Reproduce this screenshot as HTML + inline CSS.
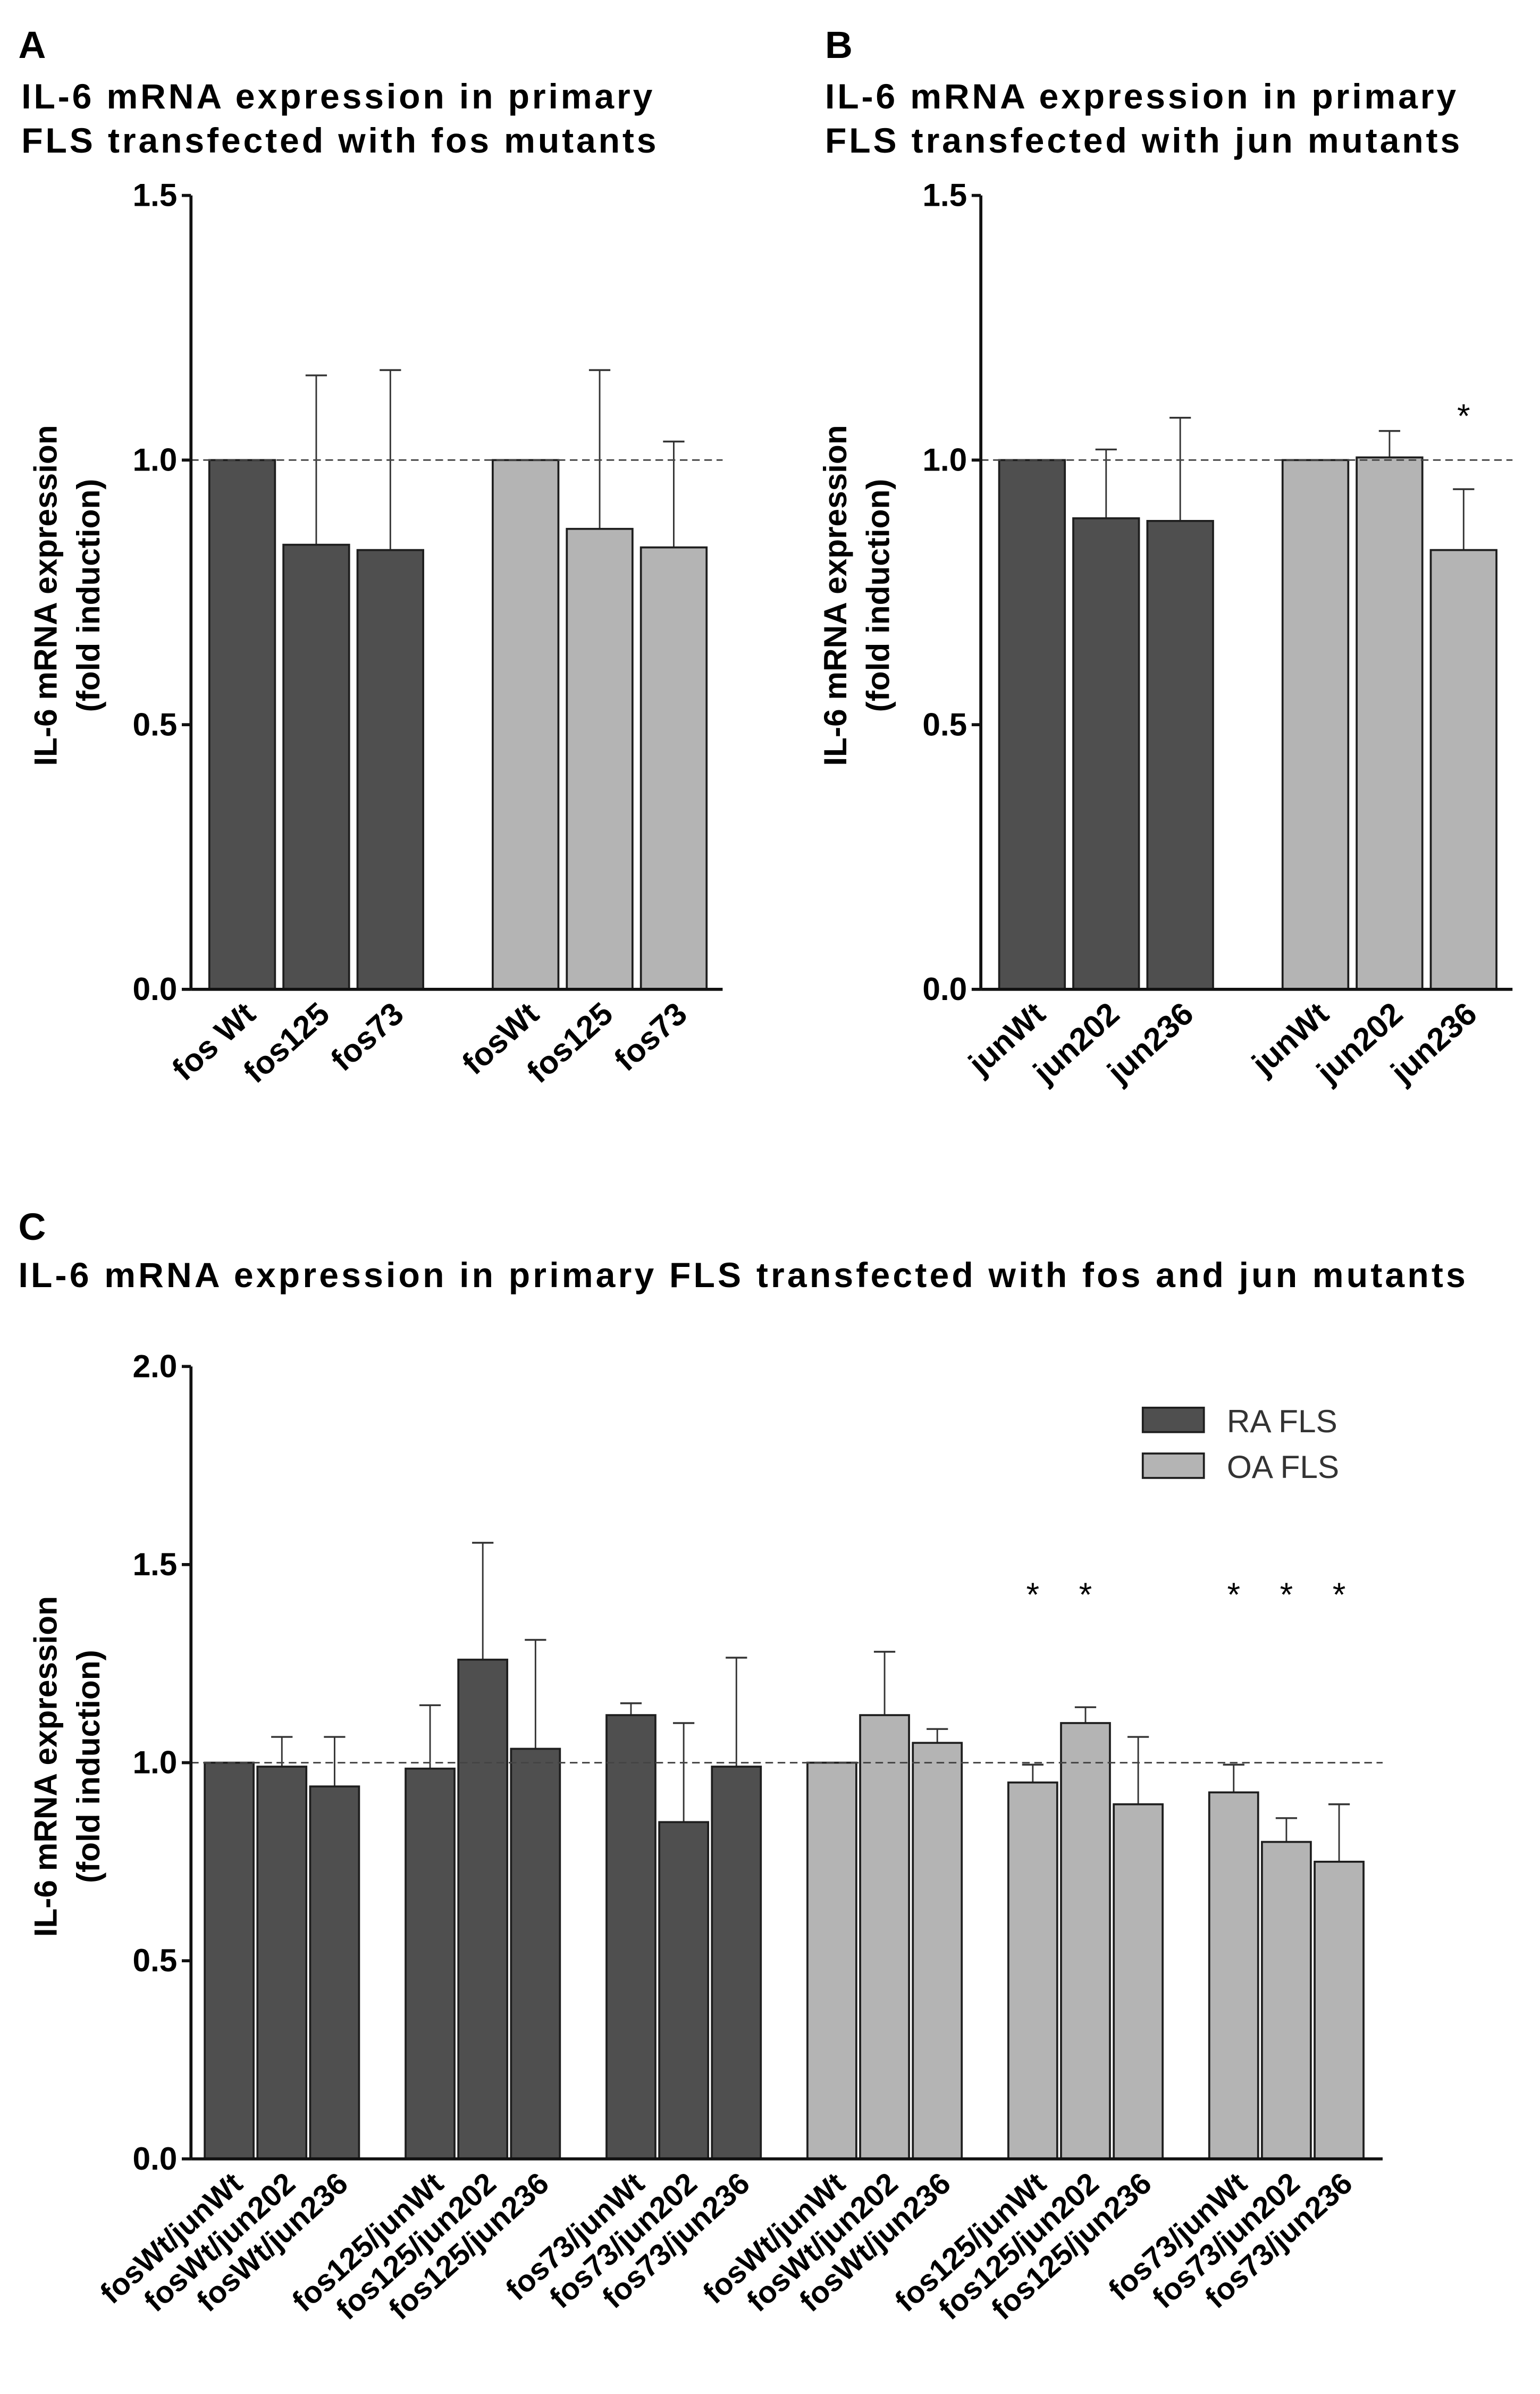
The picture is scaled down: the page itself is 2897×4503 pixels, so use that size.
<!DOCTYPE html>
<html><head><meta charset="utf-8"><style>
html,body{margin:0;padding:0;background:#fff;}
svg{display:block;font-family:"Liberation Sans",Arial,sans-serif;}
</style></head><body>
<svg id="fig" width="2897" height="4503" viewBox="0 0 1008 1568" preserveAspectRatio="none">
<rect x="0" y="0" width="1008" height="1568" fill="#fff"/>
<text x="12" y="38" font-size="25" font-weight="bold">A</text>
<text x="14" y="71" font-size="23" font-weight="bold" letter-spacing="1.7">IL-6 mRNA expression in primary</text>
<text x="14" y="100" font-size="23" font-weight="bold" letter-spacing="1.7">FLS transfected with fos mutants</text>
<text x="540" y="38" font-size="25" font-weight="bold">B</text>
<text x="540" y="71" font-size="23" font-weight="bold" letter-spacing="1.7">IL-6 mRNA expression in primary</text>
<text x="540" y="100" font-size="23" font-weight="bold" letter-spacing="1.7">FLS transfected with jun mutants</text>
<text x="12" y="812" font-size="25" font-weight="bold">C</text>
<text x="12" y="843" font-size="23" font-weight="bold" letter-spacing="1.8">IL-6 mRNA expression in primary FLS transfected with fos and jun mutants</text>
<g id="pa"></g>
<g id="pb"></g>
<g id="pc"></g>
</svg>
<script>
const aLabels=["fos Wt","fos125","fos73","fosWt","fos125","fos73"];
const aValues=[1.0,0.84,0.83,1.0,0.87,0.835];
const aErrors=[0,1.16,1.17,0,1.17,1.035];
const aGroups=[0,0,0,1,1,1];
const aTicks=["0.0","0.5","1.0","1.5"];
const bLabels=["junWt","jun202","jun236","junWt","jun202","jun236"];
const bValues=[1.0,0.89,0.885,1.0,1.005,0.83];
const bErrors=[0,1.02,1.08,0,1.055,0.945];
const bGroups=[0,0,0,1,1,1];
const bStars=[0,0,0,0,0,1];
const cLabels=["fosWt/junWt","fosWt/jun202","fosWt/jun236","fos125/junWt","fos125/jun202","fos125/jun236","fos73/junWt","fos73/jun202","fos73/jun236","fosWt/junWt","fosWt/jun202","fosWt/jun236","fos125/junWt","fos125/jun202","fos125/jun236","fos73/junWt","fos73/jun202","fos73/jun236"];
const cValues=[1.0,0.99,0.94,0.985,1.26,1.035,1.12,0.85,0.99,1.0,1.12,1.05,0.95,1.10,0.895,0.925,0.80,0.75];
const cErrors=[0,1.065,1.065,1.145,1.555,1.31,1.15,1.10,1.265,0,1.28,1.085,0.995,1.14,1.065,0.995,0.86,0.895];
const cGroups=[0,0,0,0,0,0,0,0,0,1,1,1,1,1,1,1,1,1];
const cStars=[0,0,0,0,0,0,0,0,0,0,0,0,1,1,0,1,1,1];
const cTicks=["0.0","0.5","1.0","1.5","2.0"];
const legendNames=["RA FLS","OA FLS"];
const NS="http://www.w3.org/2000/svg";
const fills=["#4f4f4f","#b4b4b4"];
function mk(p,t,a){const e=document.createElementNS(NS,t);for(const k in a)e.setAttribute(k,a[k]);p.appendChild(e);return e;}
function panel(g,o){
  const y=v=>o.y0-(v/o.ymax)*(o.y0-o.ytop);
  const x=i=>o.x0+o.start+i*o.step+Math.floor(i/3)*o.gap;
  o.values.forEach((v,i)=>{
    const bx=x(i),cx=bx+o.bw/2;
    if(o.errors[i]>v){
      const l=mk(g,'line',{x1:cx,x2:cx,y1:y(v),y2:y(o.errors[i]),stroke:'#333','stroke-width':1});
      
      
      const c=mk(g,'line',{x1:cx-7,x2:cx+7,y1:y(o.errors[i]),y2:y(o.errors[i]),stroke:'#333','stroke-width':1.2});
      
      
    }
    const r=mk(g,'rect',{x:bx,y:y(v),width:o.bw,height:o.y0-y(v),fill:fills[o.groups[i]],stroke:'#1e1e1e','stroke-width':1.3});
    
    
    if(o.stars&&o.stars[i]){const s=mk(g,'text',{x:cx,y:o.starY,'font-size':22,'text-anchor':'middle'});s.textContent='*';
      
      }
    const t=mk(g,'text',{'font-size':o.lfs,'font-weight':'bold','text-anchor':'end',transform:`translate(${cx+10},${o.y0+18}) rotate(-42)`});
    t.textContent=o.labels[i];
    
    
  });
  const d=mk(g,'line',{x1:o.x0,x2:o.x1,y1:y(1),y2:y(1),stroke:'#444','stroke-width':1,'stroke-dasharray':'5,3'});
  
  
  const ya=mk(g,'line',{x1:o.x0,x2:o.x0,y1:o.ytop,y2:o.y0,stroke:'#111','stroke-width':2});
  
  
  const xa=mk(g,'line',{x1:o.x0,x2:o.x1,y1:o.y0,y2:o.y0,stroke:'#111','stroke-width':2});
  
  
  o.ticks.forEach((tl,i)=>{
    const v=parseFloat(tl);
    mk(g,'line',{x1:o.x0-6,x2:o.x0,y1:y(v),y2:y(v),stroke:'#111','stroke-width':2});
    const t=mk(g,'text',{x:o.x0-9,y:y(v)+7,'font-size':21,'font-weight':'bold','text-anchor':'end'});
    t.textContent=tl;
    
    
  });
  const cy=o.titleY;
  const t1=mk(g,'text',{'font-size':21,'font-weight':'bold','text-anchor':'middle',transform:`translate(${o.x0-88},${cy}) rotate(-90)`});
  t1.textContent='IL-6 mRNA expression';
  
  
  const t2=mk(g,'text',{'font-size':21,'font-weight':'bold','text-anchor':'middle',transform:`translate(${o.x0-60},${cy}) rotate(-90)`});
  t2.textContent='(fold induction)';
  
  
}
panel(document.getElementById('pa'),{x0:125,x1:473,y0:648,ytop:128,ymax:1.5,start:12,step:48.5,gap:40,bw:43,values:aValues,errors:aErrors,labels:aLabels,groups:aGroups,ticks:aTicks,lfs:21,titleY:390});
panel(document.getElementById('pb'),{x0:642,x1:990,y0:648,ytop:128,ymax:1.5,start:12,step:48.5,gap:40,bw:43,values:bValues,errors:bErrors,labels:bLabels,groups:bGroups,stars:bStars,starY:280,ticks:aTicks,lfs:21,titleY:390});
panel(document.getElementById('pc'),{x0:125,x1:905,y0:1414,ytop:895,ymax:2.0,start:9,step:34.5,gap:28,bw:32,values:cValues,errors:cErrors,labels:cLabels,groups:cGroups,stars:cStars,starY:1052,ticks:cTicks,lfs:20,titleY:1157});
const pc=document.getElementById('pc');
legendNames.forEach((n,i)=>{
  const r=mk(pc,'rect',{x:748,y:922+i*30,width:40,height:16,fill:fills[i],stroke:'#1e1e1e','stroke-width':1.3});
  
  
  const t=mk(pc,'text',{x:803,y:938+i*30,'font-size':21,fill:'#333'});
  t.textContent=n;
  
  
});
</script>
</body></html>
